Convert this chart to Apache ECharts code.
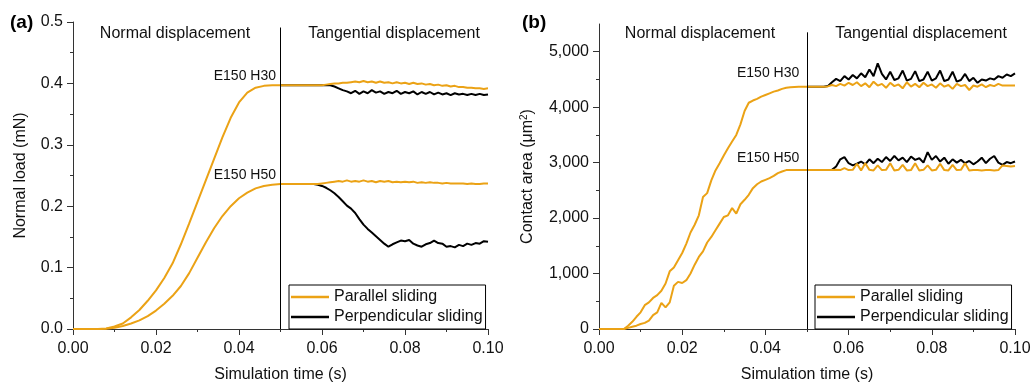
<!DOCTYPE html>
<html>
<head>
<meta charset="utf-8">
<script src="https://cdn.jsdelivr.net/npm/echarts@6/dist/echarts.min.js"></script>
<style>
  html, body { margin: 0; padding: 0; background: #fff; }
  #chart { width: 1032px; height: 385px; }
</style>
</head>
<body>
<div id="chart"></div>
<script>
// ---- time grids (s) ----
const tLoadNormal = [0, 0.002, 0.004, 0.006, 0.008, 0.010, 0.012, 0.014, 0.016, 0.018, 0.020, 0.022, 0.024,
  0.026, 0.028, 0.030, 0.032, 0.034, 0.036, 0.038, 0.040, 0.042, 0.044, 0.046, 0.048, 0.050];
const tAreaNormal = [0, 0.001, 0.002, 0.003, 0.004, 0.005, 0.006, 0.007, 0.008, 0.009,
  0.010, 0.011, 0.012, 0.013, 0.014, 0.015, 0.016, 0.017, 0.018, 0.019,
  0.020, 0.021, 0.022, 0.023, 0.024, 0.025, 0.026, 0.027, 0.028, 0.029,
  0.030, 0.031, 0.032, 0.033, 0.034, 0.035, 0.036, 0.037, 0.038, 0.039,
  0.040, 0.041, 0.042, 0.043, 0.044, 0.045, 0.046, 0.047, 0.048, 0.049, 0.050];
const tSlide = [0.050, 0.051, 0.052, 0.053, 0.054, 0.055, 0.056, 0.057, 0.058, 0.059,
  0.060, 0.061, 0.062, 0.063, 0.064, 0.065, 0.066, 0.067, 0.068, 0.069,
  0.070, 0.071, 0.072, 0.073, 0.074, 0.075, 0.076, 0.077, 0.078, 0.079,
  0.080, 0.081, 0.082, 0.083, 0.084, 0.085, 0.086, 0.087, 0.088, 0.089,
  0.090, 0.091, 0.092, 0.093, 0.094, 0.095, 0.096, 0.097, 0.098, 0.099, 0.100];

// ---- (a) normal load, mN ----
const loadH30Normal = [0, 0, 0, 0, 0.001, 0.004, 0.009, 0.019, 0.031, 0.046, 0.063, 0.083, 0.107,
  0.138, 0.172, 0.207, 0.242, 0.277, 0.312, 0.344, 0.369, 0.385, 0.393, 0.396, 0.397, 0.397];
const loadH50Normal = [0, 0, 0, 0, 0.0005, 0.002, 0.005, 0.009, 0.014, 0.021, 0.030, 0.041, 0.054,
  0.070, 0.091, 0.116, 0.141, 0.164, 0.184, 0.200, 0.213, 0.222, 0.229, 0.233, 0.235, 0.236];
const loadH30Par = [0.397, 0.397, 0.397, 0.397, 0.397, 0.397, 0.397, 0.397, 0.397, 0.397,
  0.397, 0.398, 0.399, 0.400, 0.400, 0.401, 0.401, 0.402, 0.403, 0.402,
  0.404, 0.402, 0.403, 0.401, 0.403, 0.401, 0.402, 0.400, 0.402, 0.400,
  0.401, 0.399, 0.401, 0.399, 0.400, 0.398, 0.399, 0.397, 0.398, 0.396,
  0.397, 0.395, 0.396, 0.394, 0.394, 0.393, 0.393, 0.392, 0.392, 0.391, 0.392];
const loadH30Perp = [0.397, 0.397, 0.397, 0.397, 0.397, 0.397, 0.397, 0.397, 0.397, 0.397,
  0.397, 0.397, 0.397, 0.395, 0.392, 0.389, 0.387, 0.384, 0.388, 0.383,
  0.387, 0.384, 0.389, 0.385, 0.387, 0.383, 0.386, 0.384, 0.388, 0.383,
  0.386, 0.384, 0.387, 0.382, 0.386, 0.383, 0.386, 0.382, 0.385, 0.382,
  0.384, 0.381, 0.384, 0.382, 0.383, 0.381, 0.383, 0.381, 0.383, 0.381, 0.382];
const loadH50Par = [0.236, 0.236, 0.236, 0.236, 0.236, 0.236, 0.236, 0.236, 0.236, 0.236,
  0.237, 0.238, 0.239, 0.240, 0.241, 0.240, 0.242, 0.240, 0.241, 0.240,
  0.242, 0.240, 0.241, 0.239, 0.241, 0.240, 0.241, 0.239, 0.240, 0.239,
  0.240, 0.239, 0.240, 0.238, 0.239, 0.238, 0.239, 0.238, 0.238, 0.237,
  0.238, 0.237, 0.237, 0.237, 0.237, 0.236, 0.237, 0.236, 0.236, 0.237, 0.237];
const loadH50Perp = [0.236, 0.236, 0.236, 0.236, 0.236, 0.236, 0.236, 0.236, 0.236, 0.235,
  0.233, 0.230, 0.226, 0.221, 0.215, 0.208, 0.201, 0.196, 0.189, 0.179,
  0.170, 0.163, 0.157, 0.151, 0.145, 0.139, 0.134, 0.138, 0.141, 0.144,
  0.143, 0.145, 0.139, 0.136, 0.134, 0.138, 0.140, 0.144, 0.140, 0.139,
  0.134, 0.135, 0.133, 0.137, 0.135, 0.139, 0.137, 0.140, 0.139, 0.143, 0.142];

// ---- (b) contact area, um^2 ----
const areaH30Normal = [0, 0, 0, 0, 0, 0, 0, 60, 130, 220,
  300, 430, 480, 560, 610, 690, 820, 1040, 1110, 1240,
  1370, 1540, 1740, 1880, 2050, 2380, 2450, 2680, 2860, 2990,
  3130, 3260, 3380, 3500, 3690, 3930, 4080, 4120, 4150, 4190,
  4220, 4250, 4280, 4300, 4330, 4350, 4360, 4365, 4370, 4370, 4370];
const areaH50Normal = [0, 0, 0, 0, 0, 0, 0, 20, 40, 60,
  90, 110, 150, 250, 300, 470, 390, 480, 780, 850,
  830, 880, 1000, 1160, 1300, 1400, 1560, 1660, 1780, 1900,
  2020, 2050, 2180, 2080, 2250, 2330, 2420, 2540, 2610, 2660,
  2690, 2720, 2760, 2810, 2840, 2865, 2865, 2865, 2865, 2865, 2865];
const areaH30Par = [4370, 4370, 4370, 4370, 4370, 4375, 4400, 4380, 4420, 4390,
  4440, 4400, 4450, 4380, 4430, 4360, 4460, 4390, 4420, 4350,
  4440, 4380, 4410, 4340, 4450, 4370, 4420, 4360, 4440, 4380,
  4410, 4350, 4430, 4370, 4400, 4330, 4420, 4380, 4400, 4310,
  4390, 4370, 4410, 4360, 4400, 4380, 4420, 4390, 4390, 4390, 4390];
const areaH30Perp = [4370, 4370, 4370, 4370, 4370, 4380, 4450, 4510, 4470, 4560,
  4500, 4580, 4520, 4610, 4540, 4680, 4560, 4790, 4600, 4500,
  4640, 4490, 4520, 4660, 4480, 4510, 4650, 4470, 4500, 4640,
  4480, 4520, 4660, 4470, 4500, 4640, 4460, 4490, 4600, 4470,
  4530, 4440, 4500, 4480, 4520, 4500, 4560, 4530, 4590, 4560, 4610];
const areaH50Par = [2865, 2865, 2865, 2865, 2865, 2865, 2865, 2870, 2865, 2900,
  2865, 2870, 2980, 2860, 2990, 2870, 2860, 2950, 2865, 2870,
  2990, 2860, 2870, 2960, 2860, 2865, 2990, 2860, 2870, 2950,
  2860, 2870, 2980, 2865, 2860, 2960, 2865, 2870, 2990, 2860,
  2865, 2865, 2860, 2865, 2865, 2860, 2865, 2950, 2940, 2930, 2940];
const areaH50Perp = [2865, 2865, 2865, 2865, 2865, 2865, 2870, 2930, 3060, 3100,
  2990, 2950, 2980, 3020, 2970, 3060, 2990, 3070, 3010, 3100,
  3030, 3120, 3040, 3090, 3010, 3110, 3050, 3080, 3000, 3190,
  3050, 3120, 3020, 3090, 2980, 3060, 3000, 3050, 2990, 3030,
  2970, 3020, 3090, 2990, 3070, 3120, 3000, 2960, 3010, 2990, 3020];

const areaTicks = [0, 1000, 2000, 3000, 4000, 5000];
const seriesNames = ['Parallel sliding', 'Perpendicular sliding'];

const ORANGE = '#EBA215';
const AXIS = '#333';
const FONT = "'Liberation Sans', Arial, sans-serif";
const TXT = '#111';

const zip = (ts, vs) => ts.map((t, i) => [t, vs[i]]);

function xAxisFor(grid) {
  return {
    type: 'value', gridIndex: grid, min: 0, max: 0.1, interval: 0.02,
    name: 'Simulation time (s)', nameLocation: 'middle', nameGap: 38,
    nameTextStyle: { fontSize: 16, color: TXT, fontFamily: FONT },
    axisLine: { show: true, onZero: false, lineStyle: { color: AXIS, width: 1 } },
    axisTick: { show: true, inside: false, length: 6, lineStyle: { color: AXIS } },
    minorTick: { show: true, splitNumber: 2, length: 3, lineStyle: { color: AXIS } },
    splitLine: { show: false }, minorSplitLine: { show: false },
    axisLabel: { fontSize: 16, color: TXT, fontFamily: FONT, margin: 12,
      formatter: v => v.toFixed(2) }
  };
}

function legendAt(left) {
  return {
    data: seriesNames, orient: 'vertical', left: left, top: 285,
    icon: 'rect', itemWidth: 38, itemHeight: 2.5,
    padding: [3, 3, 3, 2], itemGap: 2,
    borderColor: '#000', borderWidth: 1, borderRadius: 0,
    textStyle: { fontSize: 16, color: TXT, fontFamily: FONT, lineHeight: 18 },
    selectedMode: false
  };
}

const chart = echarts.init(document.getElementById('chart'), null, { renderer: 'canvas' });

const option = {
  backgroundColor: '#fff',
  animation: false,
  textStyle: { fontFamily: FONT },
  grid: [
    { left: 73, right: 544, top: 22, bottom: 56, outerBoundsMode: 'none' },
    { left: 599, right: 17, top: 24, bottom: 56, outerBoundsMode: 'none' }
  ],
  xAxis: [xAxisFor(0), xAxisFor(1)],
  yAxis: [
    {
      type: 'value', gridIndex: 0, min: 0, max: 0.5, interval: 0.1,
      name: 'Normal load (mN)', nameLocation: 'middle', nameGap: 44,
      nameTextStyle: { fontSize: 16, color: TXT, fontFamily: FONT },
      axisLine: { show: true, lineStyle: { color: AXIS, width: 1 } },
      axisTick: { show: true, inside: false, length: 6, lineStyle: { color: AXIS } },
      minorTick: { show: true, splitNumber: 2, length: 3, lineStyle: { color: AXIS } },
      splitLine: { show: false },
      axisLabel: { fontSize: 16, color: TXT, fontFamily: FONT, margin: 10,
        formatter: v => v.toFixed(1) }
    },
    {
      type: 'value', gridIndex: 1, min: 0, max: 5500, interval: 1000,
      name: '{t|Contact area (μm}{s|2}{t|)}', nameLocation: 'middle', nameGap: 62,
      nameTextStyle: {
        fontSize: 16, color: TXT, fontFamily: FONT,
        rich: {
          t: { fontSize: 16, color: TXT, fontFamily: FONT },
          s: { fontSize: 10, color: TXT, fontFamily: FONT, verticalAlign: 'top', padding: [0, 0, 8, 0] }
        }
      },
      axisLine: { show: true, lineStyle: { color: AXIS, width: 1 } },
      axisTick: { show: true, inside: false, length: 6, customValues: areaTicks, lineStyle: { color: AXIS } },
      minorTick: { show: true, splitNumber: 2, length: 3, lineStyle: { color: AXIS } },
      splitLine: { show: false },
      axisLabel: { fontSize: 16, color: TXT, fontFamily: FONT, margin: 10, customValues: areaTicks,
        formatter: v => v.toLocaleString('en-US') }
    }
  ],
  legend: [legendAt(289), legendAt(815)],
  graphic: [
    { type: 'text', left: 10, top: 13, style: { text: '(a)', font: "bold 19px 'Liberation Sans', Arial", fill: '#000' } },
    { type: 'text', left: 522, top: 13, style: { text: '(b)', font: "bold 19px 'Liberation Sans', Arial", fill: '#000' } },
    { type: 'text', x: 175, y: 34, style: { text: 'Normal displacement', font: "16px 'Liberation Sans', Arial", fill: TXT, textAlign: 'center', textVerticalAlign: 'middle' } },
    { type: 'text', x: 394, y: 34, style: { text: 'Tangential displacement', font: "16px 'Liberation Sans', Arial", fill: TXT, textAlign: 'center', textVerticalAlign: 'middle' } },
    { type: 'text', x: 700, y: 34, style: { text: 'Normal displacement', font: "16px 'Liberation Sans', Arial", fill: TXT, textAlign: 'center', textVerticalAlign: 'middle' } },
    { type: 'text', x: 921, y: 34, style: { text: 'Tangential displacement', font: "16px 'Liberation Sans', Arial", fill: TXT, textAlign: 'center', textVerticalAlign: 'middle' } },
    { type: 'text', x: 276, y: 76, style: { text: 'E150 H30', font: "14px 'Liberation Sans', Arial", fill: TXT, textAlign: 'right', textVerticalAlign: 'middle' } },
    { type: 'text', x: 276, y: 175, style: { text: 'E150 H50', font: "14px 'Liberation Sans', Arial", fill: TXT, textAlign: 'right', textVerticalAlign: 'middle' } },
    { type: 'text', x: 737, y: 73, style: { text: 'E150 H30', font: "14px 'Liberation Sans', Arial", fill: TXT, textAlign: 'left', textVerticalAlign: 'middle' } },
    { type: 'text', x: 737, y: 158, style: { text: 'E150 H50', font: "14px 'Liberation Sans', Arial", fill: TXT, textAlign: 'left', textVerticalAlign: 'middle' } }
  ],
  series: []
};

function line(name, color, x, y, data, extra) {
  return Object.assign({
    type: 'line', name, xAxisIndex: x, yAxisIndex: y, data,
    symbol: 'none', showSymbol: false, smooth: false,
    lineStyle: { color, width: 2 }, itemStyle: { color },
    emphasis: { disabled: true }, silent: true
  }, extra || {});
}

// vertical divider between the normal and tangential stages at t = 0.05 s
function divider(top) {
  return {
    silent: true, symbol: 'none', animation: false,
    label: { show: false },
    lineStyle: { color: '#000', width: 1, type: 'solid' },
    data: [[{ coord: [0.05, 0] }, { coord: [0.05, top] }]]
  };
}

option.series.push(
  // panel (a)
  line(seriesNames[1], '#000', 0, 0, zip(tSlide, loadH30Perp)),
  line(seriesNames[1], '#000', 0, 0, zip(tSlide, loadH50Perp)),
  line(seriesNames[0], ORANGE, 0, 0, zip(tLoadNormal, loadH30Normal).concat(zip(tSlide, loadH30Par)),
    { markLine: divider(0.491) }),
  line(seriesNames[0], ORANGE, 0, 0, zip(tLoadNormal, loadH50Normal).concat(zip(tSlide, loadH50Par))),
  // panel (b)
  line(seriesNames[1], '#000', 1, 1, zip(tSlide, areaH30Perp)),
  line(seriesNames[1], '#000', 1, 1, zip(tSlide, areaH50Perp)),
  line(seriesNames[0], ORANGE, 1, 1, zip(tAreaNormal, areaH30Normal).concat(zip(tSlide, areaH30Par)),
    { markLine: divider(5350) }),
  line(seriesNames[0], ORANGE, 1, 1, zip(tAreaNormal, areaH50Normal).concat(zip(tSlide, areaH50Par)))
);

chart.setOption(option);
</script>
</body>
</html>
